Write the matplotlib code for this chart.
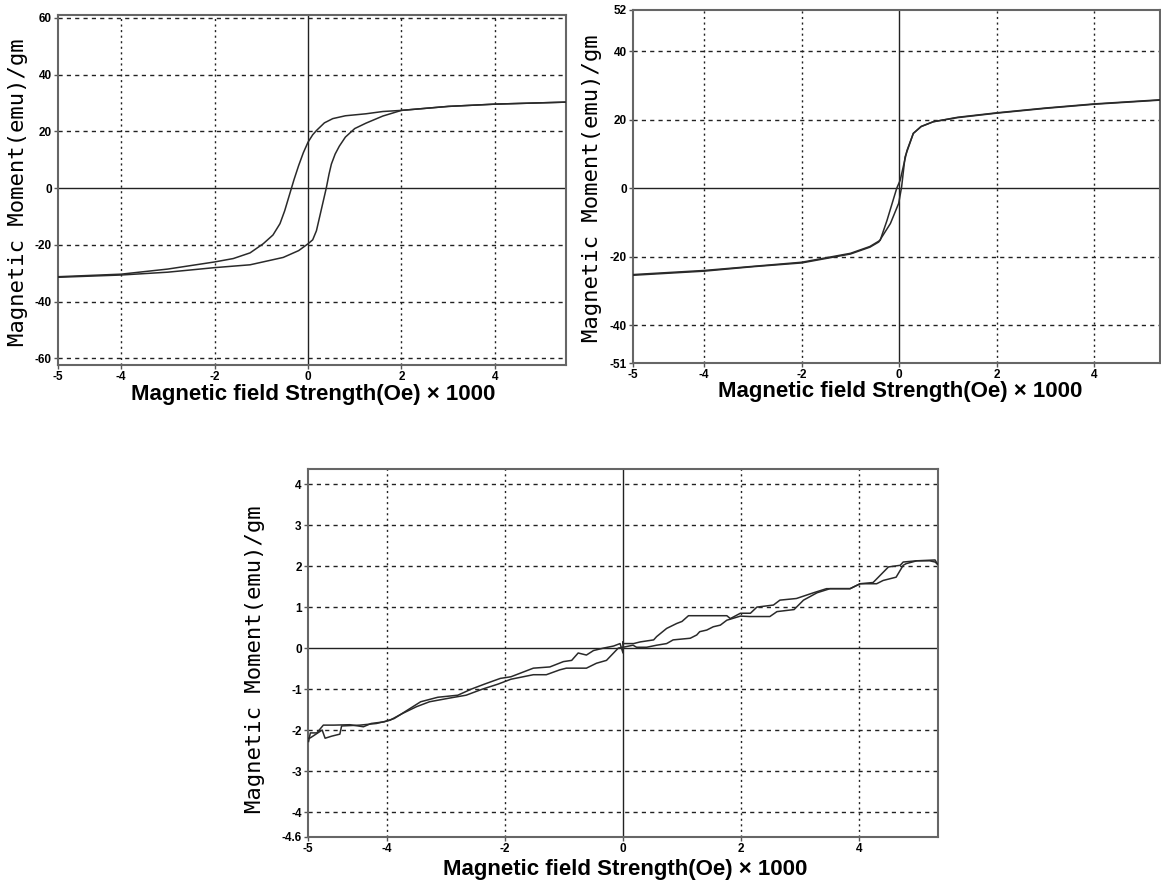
import matplotlib
matplotlib.use("Agg")
import matplotlib.pyplot as plt

# ---------------- data ----------------
# Panel 1 (wide hysteresis loop)
p1_desc_x = [5.5, 4.0, 3.0, 2.0, 1.6, 1.24, 0.8, 0.53, 0.35, 0.18, 0.1, 0.0, -0.1, -0.2, -0.3, -0.4, -0.5, -0.6, -0.75, -0.96, -1.24, -1.6, -2.0, -3.0, -4.0, -5.35]
p1_desc_y = [30.3, 29.6, 28.8, 27.4, 27.0, 26.2, 25.5, 24.5, 23.0, 20.3, 18.8, 16.2, 12.5, 8.0, 3.0, -2.5, -8.0, -12.5, -16.5, -19.6, -22.8, -24.8, -26.0, -28.5, -30.3, -31.2]
p1_asc_x = [-5.35, -4.0, -3.0, -2.0, -1.24, -0.53, -0.2, 0.0, 0.1, 0.18, 0.25, 0.32, 0.39, 0.45, 0.5, 0.58, 0.67, 0.8, 1.0, 1.24, 1.6, 2.0, 3.0, 4.0, 5.5]
p1_asc_y = [-31.4, -30.6, -29.6, -28.0, -27.0, -24.4, -22.0, -19.6, -18.2, -15.0, -10.0, -5.0, 0.0, 5.0, 8.5, 12.0, 14.8, 18.0, 21.0, 22.9, 25.4, 27.4, 28.8, 29.6, 30.3]

# Panel 2 (narrow loop)
p2_desc_x = [5.35, 4.0, 3.0, 2.0, 1.2, 0.7, 0.45, 0.29, 0.16, 0.02, -0.05, -0.25, -0.39, -0.6, -1.0, -2.0, -3.0, -4.0, -5.46]
p2_desc_y = [25.7, 24.5, 23.3, 21.9, 20.6, 19.4, 18.0, 16.0, 11.0, 2.3, 0.0, -9.4, -15.2, -17.0, -19.0, -21.6, -22.8, -24.0, -25.2]
p2_asc_x = [-5.46, -4.0, -3.0, -2.0, -1.0, -0.6, -0.42, -0.18, -0.01, 0.05, 0.12, 0.29, 0.45, 0.7, 1.2, 2.0, 3.0, 4.0, 5.35]
p2_asc_y = [-25.4, -24.2, -22.9, -21.8, -19.2, -17.2, -15.7, -10.3, -4.4, 0.4, 9.1, 16.0, 18.0, 19.4, 20.7, 22.0, 23.4, 24.6, 25.8]

# Panel 3 (near-linear, noisy)
p3_up_x = [-5.33, -5.30, -5.19, -5.08, -4.9, -4.63, -4.4, -4.27, -4.05, -3.88, -3.65, -3.43, -3.14, -2.8, -2.57, -2.35, -2.08, -1.9, -1.52, -1.24, -1.01, -0.87, -0.76, -0.62, -0.5, -0.33, -0.16, -0.05, 0.0, 0.0, 0.0, 0.18, 0.29, 0.52, 0.57, 0.74, 0.91, 1.0, 1.11, 1.76, 1.82, 1.99, 2.16, 2.27, 2.55, 2.66, 2.94, 3.23, 3.45, 3.85, 4.02, 4.24, 4.5, 4.7, 4.75, 4.98, 5.2, 5.29, 5.33]
p3_up_y = [-2.28, -2.07, -2.07, -1.88, -1.88, -1.87, -1.92, -1.84, -1.80, -1.72, -1.51, -1.31, -1.20, -1.15, -1.00, -0.88, -0.74, -0.70, -0.49, -0.46, -0.33, -0.30, -0.12, -0.17, -0.06, 0.0, 0.05, 0.11, -0.12, 0.15, 0.11, 0.11, 0.15, 0.20, 0.28, 0.48, 0.60, 0.65, 0.79, 0.79, 0.72, 0.85, 0.85, 1.0, 1.05, 1.17, 1.21, 1.35, 1.45, 1.45, 1.57, 1.60, 1.98, 2.02, 2.10, 2.13, 2.13, 2.10, 2.05]
p3_lo_x = [-5.33, -5.3, -5.1, -5.05, -4.94, -4.8, -4.77, -4.46, -4.18, -3.95, -3.73, -3.5, -3.28, -2.94, -2.66, -2.38, -2.12, -1.9, -1.52, -1.3, -1.07, -0.96, -0.62, -0.45, -0.28, -0.16, -0.08, 0.0, 0.17, 0.23, 0.40, 0.57, 0.74, 0.85, 1.14, 1.25, 1.3, 1.42, 1.53, 1.65, 1.76, 1.99, 2.15, 2.49, 2.61, 2.9, 3.06, 3.29, 3.51, 3.85, 4.02, 4.3, 4.41, 4.63, 4.75, 4.8, 4.98, 5.29, 5.33]
p3_lo_y = [-2.2, -2.19, -2.0, -2.2, -2.15, -2.1, -1.9, -1.88, -1.84, -1.76, -1.59, -1.43, -1.31, -1.22, -1.15, -1.00, -0.88, -0.76, -0.65, -0.65, -0.53, -0.49, -0.49, -0.37, -0.30, -0.12, 0.0, 0.02, 0.07, 0.02, 0.02, 0.07, 0.11, 0.20, 0.24, 0.32, 0.40, 0.44, 0.52, 0.56, 0.68, 0.78, 0.77, 0.77, 0.89, 0.94, 1.17, 1.35, 1.45, 1.45, 1.57, 1.57, 1.65, 1.73, 2.02, 2.06, 2.13, 2.15, 2.05]

# ticks / labels
p1_xticks = [-5.35, -4, -2, 0, 2, 4]
p1_xlabels = ["-5", "-4", "-2", "0", "2", "4"]
p1_yticks = [60, 40, 20, 0, -20, -40, -60]
p1_ylabels = ["60", "40", "20", "0", "-20", "-40", "-60"]
p2_xticks = [-5.46, -4, -2, 0, 2, 4]
p2_xlabels = ["-5", "-4", "-2", "0", "2", "4"]
p2_yticks = [52, 40, 20, 0, -20, -40, -51]
p2_ylabels = ["52", "40", "20", "0", "-20", "-40", "-51"]
p3_xticks = [-5.34, -4, -2, 0, 2, 4]
p3_xlabels = ["-5", "-4", "-2", "0", "2", "4"]
p3_yticks = [4, 3, 2, 1, 0, -1, -2, -3, -4, -4.6]
p3_ylabels = ["4", "3", "2", "1", "0", "-1", "-2", "-3", "-4", "-4.6"]

YLABEL = "Magnetic Moment(emu)/gm"
XLABEL = "Magnetic field Strength(Oe) \u00d7 1000"

W, H = 1161, 884
fig = plt.figure(figsize=(W / 100, H / 100), dpi=100)

def px_axes(l, t, r, b):
    return fig.add_axes([l / W, 1 - b / H, (r - l) / W, (b - t) / H])

def style(ax, xlim, ylim, xt, xl, yt, yl, vgrid, hgrid):
    ax.set_xlim(*xlim)
    ax.set_ylim(*ylim)
    ax.set_xticks(xt)
    ax.set_xticklabels(xl)
    ax.set_yticks(yt)
    ax.set_yticklabels(yl)
    for lab in ax.get_xticklabels() + ax.get_yticklabels():
        lab.set_fontfamily("Liberation Sans")
        lab.set_fontweight("bold")
        lab.set_fontsize(8.5)
    ax.tick_params(direction="out", length=3, width=1, color="#555555", pad=1.5)
    for s in ax.spines.values():
        s.set_color("#666666")
        s.set_linewidth(1.5)
    for v in vgrid:
        ax.axvline(v, color="#222222", lw=1.0, ls=(0, (1.5, 2.5)), zorder=1)
    for h in hgrid:
        ax.axhline(h, color="#222222", lw=1.0, ls=(0, (3, 3)), zorder=1)
    ax.axhline(0, color="#222222", lw=1.0, zorder=1)
    ax.axvline(0, color="#222222", lw=1.0, zorder=1)

lc = "#2a2a2a"

ax1 = px_axes(58, 15, 566, 365)
style(ax1, (-5.35, 5.52), (-62.3, 61), p1_xticks, p1_xlabels, p1_yticks, p1_ylabels,
      [-4, -2, 2, 4], [60, 40, 20, -20, -40, -60])
ax1.plot(p1_desc_x, p1_desc_y, color=lc, lw=1.1, zorder=3)
ax1.plot(p1_asc_x, p1_asc_y, color=lc, lw=1.1, zorder=3)

ax2 = px_axes(633, 10, 1160, 363)
style(ax2, (-5.46, 5.35), (-51, 52), p2_xticks, p2_xlabels, p2_yticks, p2_ylabels,
      [-4, -2, 2, 4], [40, 20, -20, -40])
ax2.plot(p2_desc_x, p2_desc_y, color=lc, lw=1.1, zorder=3)
ax2.plot(p2_asc_x, p2_asc_y, color=lc, lw=1.1, zorder=3)

ax3 = px_axes(308, 469, 938, 837)
style(ax3, (-5.34, 5.34), (-4.61, 4.37), p3_xticks, p3_xlabels, p3_yticks, p3_ylabels,
      [-4, -2, 2, 4], [4, 3, 2, 1, -1, -2, -3, -4])
ax3.plot(p3_up_x, p3_up_y, color=lc, lw=1.1, zorder=3)
ax3.plot(p3_lo_x, p3_lo_y, color=lc, lw=1.1, zorder=3)

def ylab(xpx, ypx):
    fig.text(xpx / W, 1 - ypx / H, YLABEL, rotation=90, ha="center", va="center",
             family="DejaVu Sans Mono", fontsize=16)

def xlab(xpx, ypx):
    fig.text(xpx / W, 1 - ypx / H, XLABEL, ha="center", va="center",
             family="Liberation Sans", fontweight="bold", fontsize=16)

ylab(18, 192)
ylab(592, 188)
ylab(255, 659)
xlab(313, 395)
xlab(900, 391)
xlab(625, 870)

fig.savefig("out.png", dpi=100)
